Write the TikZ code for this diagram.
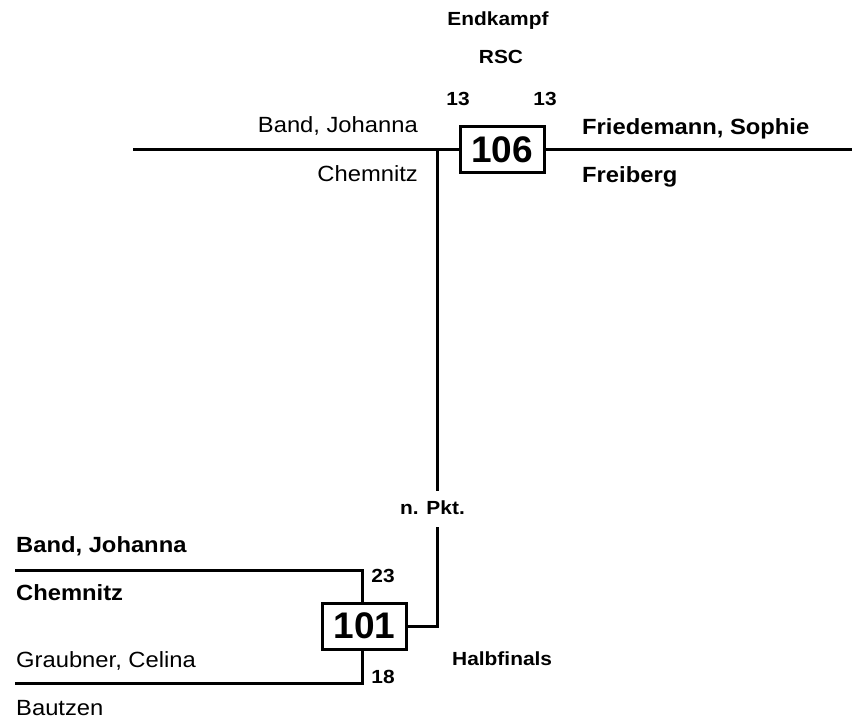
\documentclass[tikz,border=0pt]{standalone}
\usepackage{fontspec}
\setmainfont{Liberation Sans}
\newfontfamily\namefont[FakeStretch=1.08]{Liberation Sans}
\newfontfamily\lblfont[FakeStretch=1.1]{Liberation Sans}
\begin{document}
\begin{tikzpicture}[x=1pt,y=-1pt,
  conn/.style={line width=3pt},
  numbox/.style={draw, line width=3pt, minimum width=84pt, minimum height=46pt, inner sep=0pt, font=\fontsize{37}{37}\selectfont\bfseries},
  nametxt/.style={inner sep=0pt, font=\namefont\fontsize{22}{22}\selectfont},
  boldtxt/.style={inner sep=0pt, font=\namefont\fontsize{22}{22}\selectfont\bfseries},
  lbl/.style={inner sep=0pt, font=\lblfont\fontsize{19}{19}\selectfont\bfseries}]
\useasboundingbox (0,0) rectangle (852,722);
% final
\node[lbl, anchor=base] (endk) at (498,26) {Endkampf};
\node[lbl, anchor=base] (rsc) at (501,64) {RSC};
\node[lbl, anchor=base] (sA) at (458,106) {13};
\node[lbl, anchor=base] (sB) at (545,106) {13};
\node[numbox] (m106) at (502,150) {106};
\node[nametxt, anchor=base east] (n1) at (418,133) {Band, Johanna};
\node[nametxt, anchor=base east] (c1) at (418,182) {Chemnitz};
\node[boldtxt, anchor=base west] (n2) at (582,135) {Friedemann, Sophie};
\node[boldtxt, anchor=base west] (c2) at (582,183) {Freiberg};
\coordinate (Lstart) at (133,150);
\coordinate (Rend) at (852,150);
\coordinate (J) at (437.5,150);
\coordinate (Jtop) at (437.5,491);
\coordinate (Jbot) at (437.5,527);
\node[lbl, anchor=base] (npkt) at (432.5,514) {n. Pkt.};
% semifinal
\node[numbox] (m101) at (364.5,626) {101};
\node[boldtxt, anchor=base west] (n3) at (16,552) {Band, Johanna};
\node[boldtxt, anchor=base west] (c3) at (16,600) {Chemnitz};
\node[nametxt, anchor=base west] (n4) at (16,667) {Graubner, Celina};
\node[nametxt, anchor=base west] (c4) at (16,715) {Bautzen};
\node[lbl, anchor=base] (s23) at (383,582) {23};
\node[lbl, anchor=base] (s18) at (383,683) {18};
\node[lbl, anchor=base west] (halb) at (452,665) {Halbfinals};
\coordinate (A1) at (15,570);
\coordinate (A2) at (15,683);
% connectors
\draw[conn] (Lstart) -- (m106.west);
\draw[conn] (m106.east) -- (Rend);
\draw[conn] (J) -- (Jtop);
\draw[conn] (m101.east) -| (Jbot);
\draw[conn] (A1) -| ([xshift=-2pt]m101.north);
\draw[conn] (A2) -| ([xshift=-2pt]m101.south);
\end{tikzpicture}
\end{document}
